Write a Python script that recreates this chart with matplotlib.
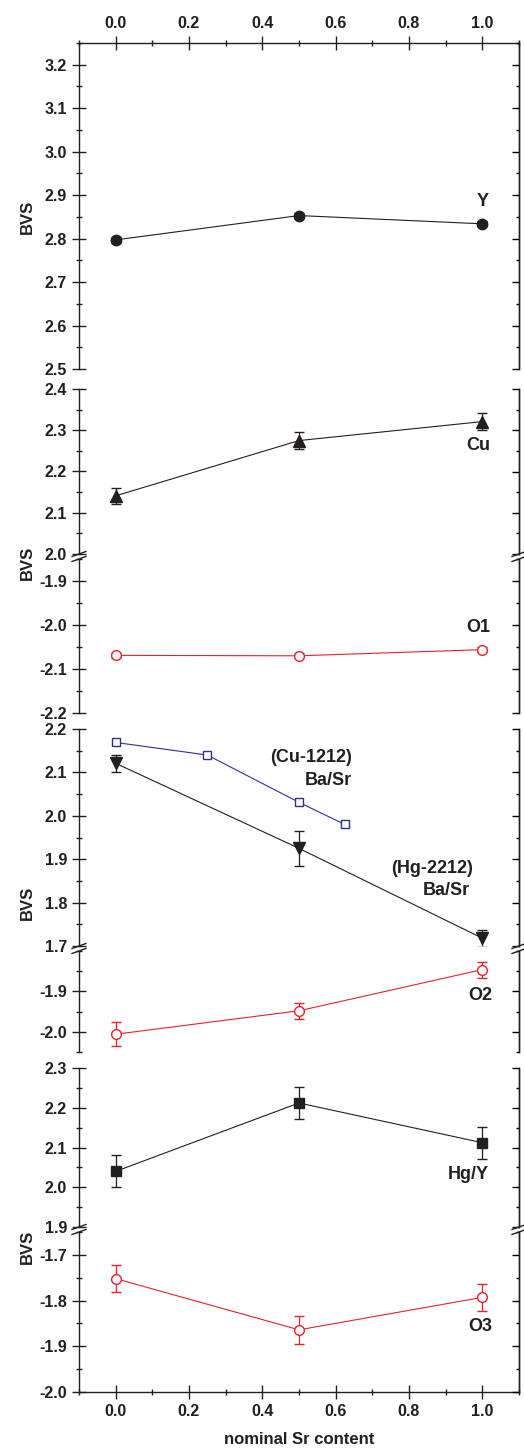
import numpy as np
import matplotlib
matplotlib.use('Agg')
import matplotlib.pyplot as plt
from matplotlib.ticker import FixedLocator, FixedFormatter
from matplotlib.lines import Line2D

plt.rcParams['font.family'] = ['Liberation Sans', 'DejaVu Sans']
plt.rcParams['font.weight'] = 'bold'

# ---------------- data ----------------
x_sr = [0.0, 0.5, 1.0]
y_bvs = [2.797, 2.853, 2.834]
y_err = [0.006, 0.006, 0.006]
cu_bvs = [2.141, 2.275, 2.321]
cu_err = [0.02, 0.02, 0.02]
o1_bvs = [-2.069, -2.070, -2.056]
o1_err = [0.006, 0.006, 0.006]
hg2212_bvs = [2.121, 1.925, 1.718]
hg2212_err = [0.02, 0.04, 0.02]
x_cu1212 = [0.0, 0.25, 0.5, 0.625]
cu1212_bvs = [2.169, 2.140, 2.031, 1.980]
o2_bvs = [-2.006, -1.948, -1.846]
o2_err = [0.03, 0.02, 0.02]
hgy_bvs = [2.040, 2.212, 2.112]
hgy_err = [0.04, 0.04, 0.04]
o3_bvs = [-1.752, -1.864, -1.793]
o3_err = [0.03, 0.03, 0.03]
x_major = [0.0, 0.2, 0.4, 0.6, 0.8, 1.0]
x_minor = [-0.1, 0.1, 0.3, 0.5, 0.7, 0.9, 1.1]

BLACK = '#231f20'
RED = '#e8202a'
BLUE = '#2e3192'

W, H = 524, 1450
fig = plt.figure(figsize=(W / 100, H / 100), dpi=100)
LPX, RPX = 79, 519


def make_ax(top, bottom):
    return fig.add_axes([LPX / W, 1 - bottom / H, (RPX - LPX) / W, (bottom - top) / H])


def frange(a, b, step):
    n = int(round((b - a) / step))
    return [round(a + i * step, 3) for i in range(n + 1)]


def style(ax, ylim, majors, minors, top=False, bottom=False):
    ax.set_xlim(-0.1, 1.1)
    ax.set_ylim(*ylim)
    ax.yaxis.set_major_locator(FixedLocator(majors))
    ax.yaxis.set_major_formatter(FixedFormatter(['%.1f' % v for v in majors]))
    ax.yaxis.set_minor_locator(FixedLocator(minors))
    ax.xaxis.set_major_locator(FixedLocator(x_major))
    ax.xaxis.set_major_formatter(FixedFormatter(['%.1f' % v for v in x_major]))
    ax.xaxis.set_minor_locator(FixedLocator(x_minor))
    for s in ['top', 'bottom', 'left', 'right']:
        ax.spines[s].set_linewidth(1.0)
        ax.spines[s].set_color(BLACK)
    ax.spines['top'].set_visible(top)
    ax.spines['bottom'].set_visible(bottom)
    ax.patch.set_visible(False)
    ax.tick_params(axis='y', which='major', direction='inout', length=10, width=1.0,
                   labelsize=11.5, pad=3.5, colors=BLACK)
    ax.tick_params(axis='y', which='minor', direction='inout', length=5, width=1.0, colors=BLACK)
    ax.tick_params(axis='x', which='major', direction='inout', length=10, width=1.0,
                   labelsize=11.5, pad=4, colors=BLACK,
                   top=top, labeltop=top, bottom=bottom, labelbottom=bottom)
    ax.tick_params(axis='x', which='minor', direction='inout', length=5, width=1.0, colors=BLACK,
                   top=top, bottom=bottom)
    for lab in ax.get_xticklabels() + ax.get_yticklabels():
        lab.set_fontweight('bold')
    # right side inward ticks
    tw = ax.twinx()
    tw.set_ylim(*ylim)
    tw.yaxis.set_major_locator(FixedLocator(majors))
    tw.yaxis.set_minor_locator(FixedLocator(minors))
    for s in ['top', 'bottom', 'left']:
        tw.spines[s].set_visible(False)
    tw.spines['right'].set_linewidth(1.0)
    tw.spines['right'].set_color(BLACK)
    tw.tick_params(axis='y', which='major', direction='in', length=5, width=1.0, labelright=False)
    tw.tick_params(axis='y', which='minor', direction='in', length=2.5, width=1.0)
    return ax


def series(ax, x, y, err, color, marker, ms, filled=True):
    kw = dict(color=color, lw=0.8, marker=marker, ms=ms, mec=color, mew=1.0,
              mfc=color if filled else 'white', zorder=3)
    if err is None:
        ax.plot(x, y, **kw)
    else:
        ax.errorbar(x, y, yerr=err, ecolor=color, elinewidth=0.9, capsize=3.5, capthick=0.9, **kw)


def brk(y_upper, y_lower):
    for xp in (LPX, RPX):
        for yp in (y_upper, y_lower):
            fig.add_artist(Line2D([(xp - 7) / W, (xp + 7) / W],
                                  [1 - (yp + 2.5) / H, 1 - (yp - 2.5) / H],
                                  color=BLACK, lw=1.0))


def lab(ax, x, y, s, size=13, ha='center'):
    ax.text(x, y, s, fontsize=size, fontweight='bold', ha=ha, va='center', color=BLACK)


# ---------------- panel 1: Y ----------------
a1 = style(make_ax(43, 369), (2.5, 3.25), frange(2.5, 3.2, 0.1), frange(2.5, 3.25, 0.05), top=True)
series(a1, x_sr, y_bvs, y_err, BLACK, 'o', 7.5)
lab(a1, 1.0, 2.885, 'Y')

# ---------------- panel 2: Cu / O1 ----------------
a2 = style(make_ax(389, 554), (2.0, 2.4), frange(2.0, 2.4, 0.1), frange(2.0, 2.4, 0.05))
series(a2, x_sr, cu_bvs, cu_err, BLACK, '^', 8)
lab(a2, 0.99, 2.264, 'Cu')
b2 = style(make_ax(559, 713), (-2.2, -1.85), frange(-2.2, -1.9, 0.1), frange(-2.2, -1.85, 0.05))
series(b2, x_sr, o1_bvs, o1_err, RED, 'o', 7, filled=False)
lab(b2, 0.99, -2.005, 'O1')
brk(554, 559)

# ---------------- panel 3: Ba/Sr / O2 ----------------
a3 = style(make_ax(729, 946), (1.7, 2.2), frange(1.7, 2.2, 0.1), frange(1.7, 2.2, 0.05))
series(a3, x_cu1212, cu1212_bvs, None, BLUE, 's', 6, filled=False)
series(a3, x_sr, hg2212_bvs, hg2212_err, BLACK, 'v', 8)
lab(a3, 0.645, 2.134, '(Cu-1212)', ha='right')
lab(a3, 0.645, 2.081, 'Ba/Sr', ha='right')
lab(a3, 0.974, 1.878, '(Hg-2212)', ha='right')
lab(a3, 0.965, 1.827, 'Ba/Sr', ha='right')
b3 = style(make_ax(951, 1052), (-2.05, -1.80), [-2.0, -1.9], frange(-2.05, -1.80, 0.05))
series(b3, x_sr, o2_bvs, o2_err, RED, 'o', 7, filled=False)
lab(b3, 0.994, -1.909, 'O2')
brk(946, 951)

# ---------------- panel 4: Hg/Y / O3 ----------------
a4 = style(make_ax(1068, 1227), (1.9, 2.3), frange(1.9, 2.3, 0.1), frange(1.9, 2.3, 0.05))
series(a4, x_sr, hgy_bvs, hgy_err, BLACK, 's', 6.5)
lab(a4, 0.961, 2.033, 'Hg/Y')
b4 = style(make_ax(1232, 1392), (-2.0, -1.65), frange(-2.0, -1.7, 0.1), frange(-2.0, -1.65, 0.05),
           bottom=True)
series(b4, x_sr, o3_bvs, o3_err, RED, 'o', 7, filled=False)
lab(b4, 0.995, -1.856, 'O3')
brk(1227, 1232)

# ---------------- axis labels ----------------
for yc in (217, 563, 903, 1247):
    fig.text(27 / W, 1 - yc / H, 'BVS', rotation=90, ha='center', va='center',
             fontsize=12, fontweight='bold', color=BLACK)
fig.text(299 / W, 1 - 1440 / H, 'nominal Sr content', ha='center', va='center',
         fontsize=12, fontweight='bold', color=BLACK)

fig.savefig('out.png', dpi=100)
